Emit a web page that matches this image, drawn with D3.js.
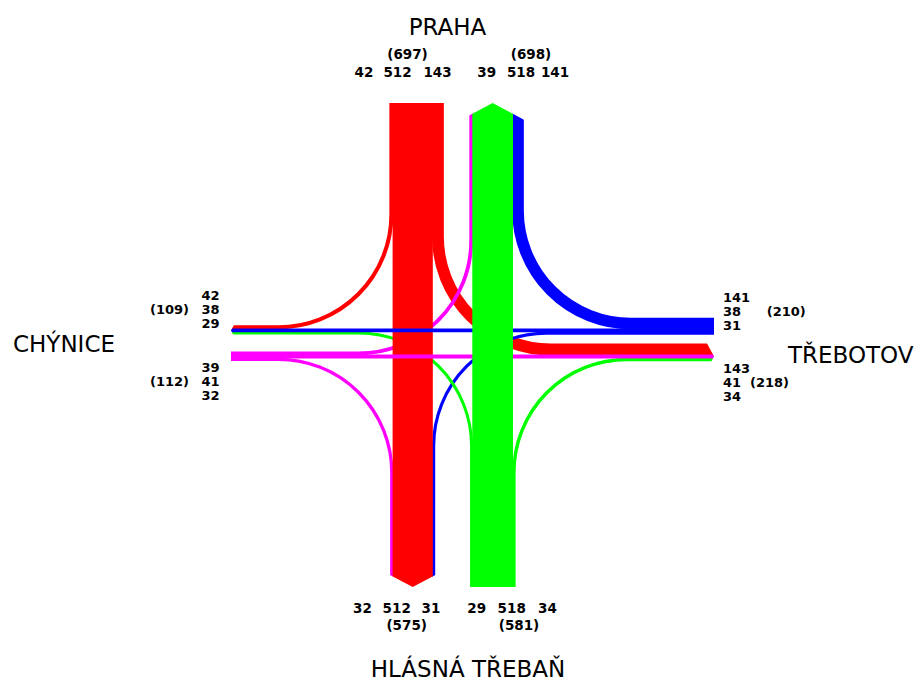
<!DOCTYPE html>
<html><head><meta charset="utf-8">
<script src="https://cdn.jsdelivr.net/npm/d3@7/dist/d3.min.js"></script>
<style>body{margin:0;background:#fff}svg{display:block}</style>
</head><body>
<svg id="chart" width="922" height="682"></svg>
<script>
// ---- data (vehicles) ----
const armNames = ["PRAHA", "HLÁSNÁ TŘEBAŇ", "CHÝNICE", "TŘEBOTOV"];
// leaving each arm: [to left-side arm, straight, to right-side arm]
const fromPraha    = [42, 512, 143];   // -> Chýnice, Hlásná Třebaň, Třebotov
const fromHlasna   = [29, 518, 34];    // -> Chýnice, Praha, Třebotov
const fromTrebotov = [141, 38, 31];    // -> Praha, Chýnice, Hlásná Třebaň
const fromChynice  = [39, 41, 32];     // -> Praha, Třebotov, Hlásná Třebaň
// arriving at each arm (label order)
const toPraha    = [39, 518, 141];     // from Chýnice, Hlásná Třebaň, Třebotov
const toHlasna   = [32, 512, 31];      // from Chýnice, Praha, Třebotov
const toChynice  = [42, 38, 29];       // from Praha, Třebotov, Hlásná Třebaň
const toTrebotov = [143, 41, 34];      // from Praha, Chýnice, Hlásná Třebaň
const armColors = {praha: "#ff0000", hlasna: "#00ff00", trebotov: "#0000ff", chynice: "#ff00ff"};

// ---- layout ----
const svg = d3.select("#chart");
const w = d3.scaleLinear().domain([0, 1000]).range([0, 77]);
const X_RED = 393, X_GRN = 472.7, Y_BLU = 329, Y_MAG = 355;
const TOP = 103, BOT = 587, LEFT = 231, RIGHT = 714, R = 113, SLOPE = 0.53;
const OVERLAP = 0.8;

const nS = w(fromPraha[1]), sN = w(fromHlasna[1]), eW = w(fromTrebotov[1]), wE = w(fromChynice[1]);

function pathOf(pts) {
  if (pts.length === 2) return `M${pts[0][0]},${pts[0][1]}L${pts[1][0]},${pts[1][1]}`;
  const [p0, c, p1] = pts;
  const d1 = [Math.sign(c[0] - p0[0]), Math.sign(c[1] - p0[1])];
  const d2 = [Math.sign(p1[0] - c[0]), Math.sign(p1[1] - c[1])];
  const a = [c[0] - d1[0] * R, c[1] - d1[1] * R];
  const b = [c[0] + d2[0] * R, c[1] + d2[1] * R];
  const sweep = (d1[0] * d2[1] - d1[1] * d2[0]) > 0 ? 1 : 0;
  return `M${p0[0]},${p0[1]}L${a[0]},${a[1]}A${R},${R} 0 0 ${sweep} ${b[0]},${b[1]}L${p1[0]},${p1[1]}`;
}

const turns = [];
const straights = [];
// Praha (red)
{ const v = fromPraha[0], xc = X_RED - w(v) / 2, yc = Y_BLU - w(v) / 2;
  turns.push({c: armColors.praha, v, pts: [[xc, TOP], [xc, yc], [LEFT, yc]]}); }
{ const v = fromPraha[2], xc = X_RED + nS + w(v) / 2, yc = Y_MAG - w(v) / 2;
  turns.push({c: armColors.praha, v, pts: [[xc, TOP], [xc, yc], [RIGHT, yc]]}); }
// Chýnice (magenta)
{ const v = fromChynice[0], yc = Y_MAG - w(v) / 2, xc = X_GRN - w(v) / 2;
  turns.push({c: armColors.chynice, v, pts: [[LEFT, yc], [xc, yc], [xc, TOP]]}); }
{ const v = fromChynice[2], yc = Y_MAG + wE + w(v) / 2, xc = X_RED - w(v) / 2;
  turns.push({c: armColors.chynice, v, pts: [[LEFT, yc], [xc, yc], [xc, BOT]]}); }
// Třebotov (blue)
{ const v = fromTrebotov[0], yc = Y_BLU - w(v) / 2, xc = X_GRN + sN + w(v) / 2;
  turns.push({c: armColors.trebotov, v, pts: [[RIGHT, yc], [xc, yc], [xc, TOP]]}); }
{ const v = fromTrebotov[2], yc = Y_BLU + eW + w(v) / 2, xc = X_RED + nS + w(v) / 2;
  turns.push({c: armColors.trebotov, v, pts: [[RIGHT, yc], [xc, yc], [xc, BOT]]}); }
// Hlásná Třebaň (green)
{ const v = fromHlasna[0], xc = X_GRN - w(v) / 2, yc = Y_BLU + eW + w(v) / 2;
  turns.push({c: armColors.hlasna, v, pts: [[xc, BOT], [xc, yc], [LEFT, yc]]}); }
{ const v = fromHlasna[2], xc = X_GRN + sN + w(v) / 2, yc = Y_MAG + wE + w(v) / 2;
  turns.push({c: armColors.hlasna, v, pts: [[xc, BOT], [xc, yc], [RIGHT, yc]]}); }

straights.push({c: armColors.praha, v: fromPraha[1], pts: [[X_RED + nS / 2, TOP], [X_RED + nS / 2, BOT]]});
straights.push({c: armColors.chynice, v: fromChynice[1], pts: [[LEFT, Y_MAG + wE / 2], [RIGHT, Y_MAG + wE / 2]]});
straights.push({c: armColors.trebotov, v: fromTrebotov[1], pts: [[RIGHT, Y_BLU + eW / 2], [LEFT, Y_BLU + eW / 2]]});
straights.push({c: armColors.hlasna, v: fromHlasna[1], pts: [[X_GRN + sN / 2, BOT], [X_GRN + sN / 2, TOP]]});

// arrow heads via clip holes
function holeV(xL, xR, ax, ay, dir) { // dir -1 top, +1 bottom
  const e = 2, far = 12;
  return [[xL - e, ay + dir * far], [xR + e, ay + dir * far],
          [xR + e, ay - dir * SLOPE * (xR + e - ax)], [ax, ay],
          [xL - e, ay - dir * SLOPE * (ax - xL + e)]];
}
function holeH(yT, yB, ax, ay, dir) { // dir -1 left, +1 right
  const e = 2, far = 12;
  return [[ax + dir * far, yT - e], [ax - dir * SLOPE * (ay - yT + e), yT - e], [ax, ay],
          [ax - dir * SLOPE * (yB + e - ay), yB + e], [ax + dir * far, yB + e]];
}
const holes = [
  holeV(X_GRN - w(toPraha[0]), X_GRN + sN + w(toPraha[2]), X_GRN + sN / 2, TOP, -1),
  holeV(X_RED - w(toHlasna[0]), X_RED + nS + w(toHlasna[2]), X_RED + nS / 2, BOT, 1),
  holeH(Y_BLU - w(toChynice[0]), Y_BLU + eW + w(toChynice[2]), LEFT, Y_BLU + eW / 2, -1),
  holeH(Y_MAG - w(toTrebotov[0]), Y_MAG + wE + w(toTrebotov[2]), RIGHT, Y_MAG + wE / 2, 1)
];
const clipD = "M0,0H922V682H0Z" + holes.map(h => "M" + h.map(p => p.join(",")).join("L") + "Z").join("");
svg.append("defs").append("clipPath").attr("id", "arrows")
  .append("path").attr("d", clipD).attr("clip-rule", "evenodd");

const g = svg.append("g").attr("clip-path", "url(#arrows)");
g.selectAll("path.turn").data(turns).join("path").attr("class", "turn")
  .attr("d", d => pathOf(d.pts)).attr("fill", "none").attr("stroke", d => d.c)
  .attr("stroke-width", d => w(d.v) + OVERLAP).attr("stroke-linecap", "butt");
g.selectAll("path.straight").data(straights).join("path").attr("class", "straight")
  .attr("d", d => pathOf(d.pts)).attr("fill", "none").attr("stroke", d => d.c)
  .attr("stroke-width", d => w(d.v) + OVERLAP).attr("stroke-linecap", "butt");

// ---- labels ----
function label(t, x, y, anchor, size, weight) {
  svg.append("text").attr("x", x).attr("y", y).attr("text-anchor", anchor)
    .attr("font-family", "DejaVu Sans").attr("font-size", size).attr("font-weight", weight)
    .attr("fill", "#000").text(t);
}
function num(t, x, y, anchor) { label(t, x, y, anchor || "middle", 13.5, "bold"); }
function sideNum(t, x, y) { label(t, x, y, "start", 13, "bold"); }
const paren = arr => `(${d3.sum(arr)})`;

// north
label(armNames[0], 447.5, 35, "middle", 23, "normal");
num(paren(fromPraha), 407.5, 59);
[364, 397.5, 437.5].forEach((x, i) => num(fromPraha[i], x, 76.7));
num(paren(toPraha), 531, 59);
[486.7, 521, 555].forEach((x, i) => num(toPraha[i], x, 76.7));
// south
label(armNames[1], 468, 676.7, "middle", 23, "normal");
[362.5, 396.7, 431].forEach((x, i) => num(toHlasna[i], x, 612.7));
num(paren(toHlasna), 406.7, 630);
[476.7, 511.7, 547.5].forEach((x, i) => num(fromHlasna[i], x, 612.7));
num(paren(fromHlasna), 519, 630);
// west
label(armNames[2], 13, 351.7, "start", 23, "normal");
[300, 314.3, 327.7].forEach((y, i) => sideNum(toChynice[i], 201.5, y));
sideNum(paren(toChynice), 150, 314.3);
[371.7, 386, 400].forEach((y, i) => sideNum(fromChynice[i], 201.5, y));
sideNum(paren(fromChynice), 150, 386);
// east
label(armNames[3], 788, 362.7, "start", 23, "normal");
[301.7, 316, 330].forEach((y, i) => sideNum(fromTrebotov[i], 723, y));
sideNum(paren(fromTrebotov), 766.7, 316);
[372.7, 386.7, 400.7].forEach((y, i) => sideNum(toTrebotov[i], 723, y));
sideNum(paren(toTrebotov), 750, 386.7);
</script>
</body></html>
